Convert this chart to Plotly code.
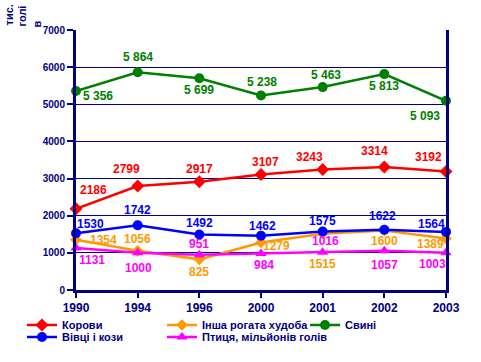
import plotly.graph_objects as go

years = ["1990", "1994", "1996", "2000", "2001", "2002", "2003"]
cows = [2186, 2799, 2917, 3107, 3243, 3314, 3192]
other_cattle = [1354, 1056, 825, 1279, 1515, 1600, 1389]
pigs = [5356, 5864, 5699, 5238, 5463, 5813, 5093]
sheep_goats = [1530, 1742, 1492, 1462, 1575, 1622, 1564]
poultry = [1131, 1000, 951, 984, 1016, 1057, 1003]

names = ["Корови", "Інша рогата худоба", "Свині", "Вівці і кози", "Птиця, мільйонів голів"]
y_ticks = [0, 1000, 2000, 3000, 4000, 5000, 6000, 7000]
y_title_parts = ["тис.", "голі", "в"]

W, H = 481, 362
L, R, T, B = 76, 35, 30, 71
PW, PH = W - L - R, H - T - B
NAVY = "#000080"
FONT = "Liberation Sans"

series = [
    dict(name=names[0], y=cows, color="#FF0000", symbol="diamond", size=10,
         fmt=lambda v: str(v),
         off=[(17, 19), (-11, 17), (0, 13), (4, 13), (-13, 13), (-10, 16), (-18, 14)]),
    dict(name=names[1], y=other_cattle, color="#FF9900", symbol="diamond", size=9,
         fmt=lambda v: str(v),
         off=[(27, 0), (0, 12), (0, -13), (15, -4), (0, -30), (0, -10), (-16, -6)]),
    dict(name=names[2], y=pigs, color="#008000", symbol="circle", size=10,
         fmt=lambda v: f"{v:,}".replace(",", " "),
         off=[(22, -5), (0, 15), (0, -12), (1, 13), (3, 12), (0, -12), (-21, -15)]),
    dict(name=names[3], y=sheep_goats, color="#0000FF", symbol="circle", size=10,
         fmt=lambda v: str(v),
         off=[(14, 9), (0, 15), (0, 12), (1, 10), (0, 11), (-2, 14), (-15, 8)]),
    dict(name=names[4], y=poultry, color="#FF00FF", symbol="triangle-up", size=10,
         fmt=lambda v: str(v),
         off=[(16, -12), (1, -15), (0, 11), (3, -12), (3, 11), (0, -14), (-14, -11)]),
]

# legend placements (px): text start x, row center y
legend_pos = [(62, 325), (202, 325), (345, 325), (62, 337), (202, 337)]
legend_keys = ["legend", "legend2", "legend3", "legend4", "legend5"]

fig = go.Figure()
annotations = []
for s, key in zip(series, legend_keys):
    fig.add_trace(go.Scatter(
        x=years, y=s["y"], name=s["name"], mode="lines+markers",
        line=dict(color=s["color"], width=2.5),
        marker=dict(color=s["color"], symbol=s["symbol"], size=s["size"]),
        legend=key, cliponaxis=False,
    ))
    for i, (yv, (dx, dy)) in enumerate(zip(s["y"], s["off"])):
        annotations.append(dict(
            x=i, y=yv, xref="x", yref="y", text=s["fmt"](yv), showarrow=False,
            xshift=dx, yshift=dy, xanchor="center", yanchor="middle",
            font=dict(family=FONT, size=12, color=s["color"], weight="bold"),
        ))

# rotated y-axis title pieces: (center x px, bottom y px)
title_pos = [(9, 28), (22, 29), (36, 30)]
for txt, (px, py) in zip(y_title_parts, title_pos):
    annotations.append(dict(
        x=(px - L) / PW, y=(H - B - py) / PH, xref="paper", yref="paper",
        text=txt, textangle=-90, showarrow=False,
        xanchor="center", yanchor="bottom",
        font=dict(family=FONT, size=11, color=NAVY, weight="bold"),
    ))

layout_legends = {}
for key, (px, py) in zip(legend_keys, legend_pos):
    layout_legends[key] = dict(
        x=(px - 40 - L) / PW, y=(H - B - py) / PH, xref="paper", yref="paper",
        xanchor="left", yanchor="middle", orientation="h",
        bgcolor="rgba(0,0,0,0)", borderwidth=0,
        font=dict(family=FONT, size=11, color=NAVY, weight="bold"),
    )

fig.update_layout(
    width=W, height=H,
    margin=dict(l=L, r=R, t=T, b=B, pad=0),
    paper_bgcolor="white", plot_bgcolor="white",
    showlegend=True,
    annotations=annotations,
    font=dict(family=FONT, color=NAVY),
    **layout_legends,
)
fig.update_xaxes(
    type="category", categoryorder="array", categoryarray=years,
    range=[0, len(years) - 1], showgrid=False,
    showline=True, linecolor=NAVY, linewidth=3, mirror=False,
    ticks="outside", ticklen=5, tickwidth=2, tickcolor=NAVY,
    tickfont=dict(family=FONT, size=12, color=NAVY, weight="bold"),
    zeroline=False,
)
fig.update_yaxes(
    range=[0, 7000], tickvals=y_ticks, ticktext=[str(v) for v in y_ticks],
    showgrid=True, gridcolor=NAVY, gridwidth=1,
    showline=True, linecolor=NAVY, linewidth=3, mirror=True,
    ticks="outside", ticklen=6, tickwidth=2, tickcolor=NAVY,
    tickfont=dict(family=FONT, size=10, color=NAVY, weight="bold"),
    zeroline=False,
)

fig.write_html("out.html", config={"displayModeBar": False},
               post_script="document.body.style.margin='0';")
